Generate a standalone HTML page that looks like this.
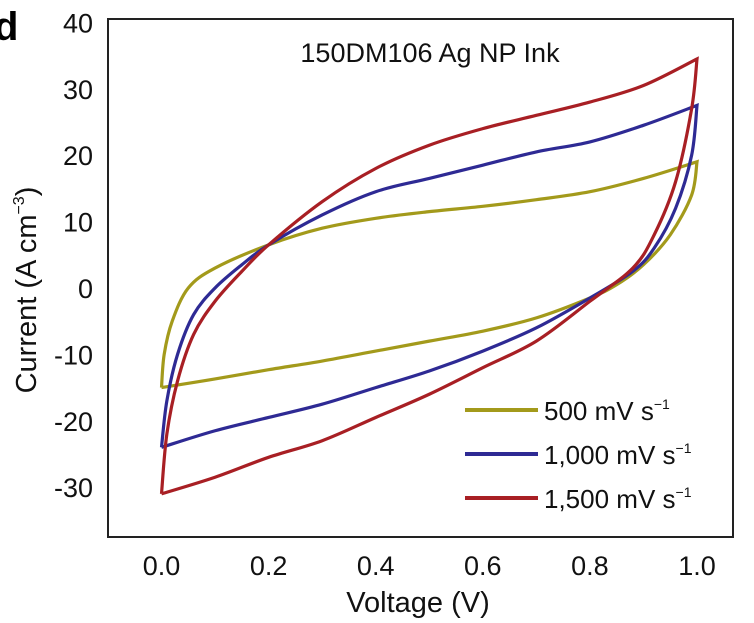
<!DOCTYPE html>
<html><head><meta charset="utf-8"><style>
body{margin:0;background:#fff}
svg{display:block;font-family:"Liberation Sans",sans-serif}
</style></head><body>
<svg width="754" height="623" id="chart">
<text x="-6" y="40" font-size="40" font-weight="bold">d</text>
<rect x="108" y="19" width="625" height="518" fill="none" stroke="#222" stroke-width="2"/>
<text x="430" y="62" font-size="27" text-anchor="middle" fill="#111">150DM106 Ag NP Ink</text>
<text x="418" y="612" font-size="29" text-anchor="middle" fill="#111">Voltage (V)</text>
<text transform="translate(36,290) rotate(-90)" font-size="29" text-anchor="middle" fill="#111">Current (A cm<tspan dy="-12" font-size="16">−3</tspan><tspan dy="12">)</tspan></text>
<g id="ticks"></g><g id="series"></g><g id="legend"></g>
</svg>
<script>
const xTicks=[0,0.2,0.4,0.6,0.8,1.0];
const yTicks=[40,30,20,10,0,-10,-20,-30];
const seriesNames=["500 mV s","1,000 mV s","1,500 mV s"];
const seriesColors=["#a39a1b","#2e2a94","#a81f24"];
const v500=[0,0.005,0.02,0.05,0.1,0.2,0.3,0.4,0.5,0.6,0.7,0.8,0.9,1.0,0.99,0.95,0.9,0.85,0.8,0.7,0.6,0.5,0.4,0.3,0.2,0.1,0];
const i500=[-15,-10,-5,0,3,6.5,9,10.5,11.5,12.3,13.3,14.5,16.5,19,14,8,3.5,0.5,-1.5,-4.5,-6.5,-8,-9.5,-11,-12.3,-13.7,-15];
const v1000=[0,0.01,0.03,0.06,0.1,0.15,0.2,0.3,0.4,0.5,0.6,0.7,0.8,0.9,1.0,0.99,0.96,0.92,0.88,0.8,0.7,0.6,0.5,0.4,0.3,0.2,0.1,0];
const i1000=[-24,-17,-10,-4,0,3.5,6.5,11,14.5,16.5,18.5,20.5,22,24.5,27.5,20,12,6,2.5,-1.5,-6,-9.5,-12.5,-15,-17.5,-19.5,-21.5,-24];
const v1500=[0,0.01,0.03,0.06,0.1,0.15,0.2,0.3,0.4,0.5,0.6,0.7,0.8,0.9,1.0,0.99,0.96,0.92,0.88,0.8,0.7,0.6,0.5,0.4,0.3,0.2,0.1,0];
const i1500=[-31,-22,-14,-7,-2,2.5,6.5,13,18,21.5,24,26,28,30.5,34.5,27,16,8,3,-2,-8,-12,-16,-19.5,-23,-25.5,-28.5,-31];
const NS="http://www.w3.org/2000/svg";
function xs(v){return 161.5+535.5*v;}
function ys(i){return 288-6.64*i;}
const tg=document.getElementById('ticks');
xTicks.forEach(v=>{const t=document.createElementNS(NS,'text');


t.setAttribute('x',xs(v));t.setAttribute('y',575);t.setAttribute('font-size','27');t.setAttribute('text-anchor','middle');t.setAttribute('fill','#111');
t.textContent=v.toFixed(1);tg.appendChild(t);});
yTicks.forEach(v=>{const t=document.createElementNS(NS,'text');


t.setAttribute('x',93);t.setAttribute('y',ys(v)+10);t.setAttribute('font-size','27');t.setAttribute('text-anchor','end');t.setAttribute('fill','#111');
t.textContent=v;tg.appendChild(t);});
function spline(p){let d='';
for(let k=0;k<p.length-1;k++){const p0=p[Math.max(k-1,0)],p1=p[k],p2=p[k+1],p3=p[Math.min(k+2,p.length-1)];
const c1=[p1[0]+(p2[0]-p0[0])/6,p1[1]+(p2[1]-p0[1])/6],c2=[p2[0]-(p3[0]-p1[0])/6,p2[1]-(p3[1]-p1[1])/6];
d+=' C'+c1+' '+c2+' '+p2;}return d;}
function pathFrom(vs,is){const p=vs.map((v,k)=>[xs(v),ys(is[k])]);
let m=0;vs.forEach((v,k)=>{if(v>vs[m])m=k;});
return 'M'+p[0]+spline(p.slice(0,m+1))+spline(p.slice(m));}
const sg=document.getElementById('series');
[[v500,i500],[v1000,i1000],[v1500,i1500]].forEach((s,k)=>{const p=document.createElementNS(NS,'path');


p.setAttribute('d',pathFrom(s[0],s[1]));p.setAttribute('fill','none');p.setAttribute('stroke',seriesColors[k]);p.setAttribute('stroke-width','3.2');p.setAttribute('stroke-linejoin','miter');
sg.appendChild(p);});
const lg=document.getElementById('legend');
seriesNames.forEach((n,k)=>{const y=410+44*k;
const l=document.createElementNS(NS,'line');


l.setAttribute('x1',465);l.setAttribute('x2',538);l.setAttribute('y1',y);l.setAttribute('y2',y);l.setAttribute('stroke',seriesColors[k]);l.setAttribute('stroke-width','4');lg.appendChild(l);
const t=document.createElementNS(NS,'text');


t.setAttribute('x',544);t.setAttribute('y',y+10);t.setAttribute('font-size','26');t.setAttribute('fill','#111');
t.innerHTML=n+'<tspan dy="-11" font-size="14">−1</tspan>';lg.appendChild(t);});
</script>
</body></html>
